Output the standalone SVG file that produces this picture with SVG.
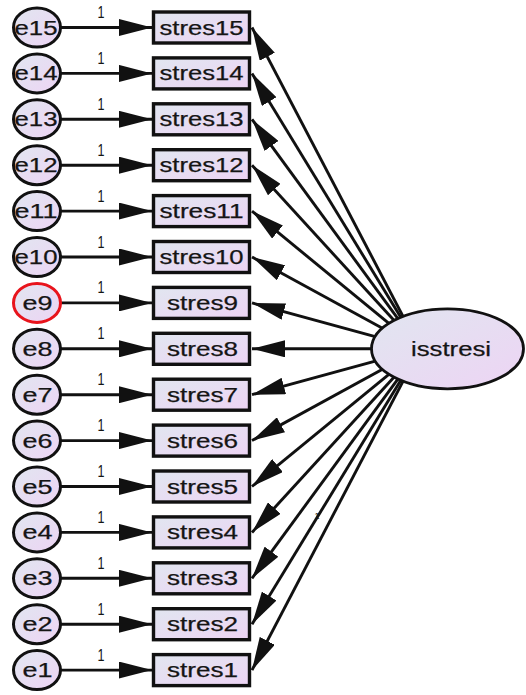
<svg xmlns="http://www.w3.org/2000/svg" width="526" height="695" viewBox="0 0 526 695">
  <style>
    .box { fill: url(#fillGrad); stroke: #111; stroke-width: 3.4; }
    .err { fill: url(#fillGrad); stroke: #111; stroke-width: 3; }
    .err.hl { stroke: #e8141c; }
    .lat { fill: url(#fillGrad); stroke: #111; stroke-width: 2.8; }
    .lbl { font-family: "Liberation Sans", Arial, sans-serif; font-size: 20px; fill: #151515; stroke: #151515; stroke-width: 0.25; text-anchor: middle; }
    .w { font-family: "Liberation Sans", Arial, sans-serif; font-size: 16px; fill: #151515; text-anchor: middle; }
    .path { stroke: #111; stroke-width: 2.9; fill: none; marker-end: url(#head); }
  </style>
  <defs>
    <linearGradient id="fillGrad" x1="0" y1="0" x2="1" y2="1">
      <stop offset="0" stop-color="#e1e6f0"/>
      <stop offset="1" stop-color="#edd4f4"/>
    </linearGradient>
    <marker id="head" markerUnits="userSpaceOnUse" markerWidth="33" markerHeight="17" refX="33" refY="8.5" orient="auto">
      <path d="M0,0 L33,8.5 L0,17 Z" fill="#111"/>
    </marker>
  </defs>
  <rect width="526" height="695" fill="#fff"/>

  <!-- connectors: error -> indicator, factor -> indicator -->
  <g id="connectors">
    <line class="path" x1="61" y1="27.5" x2="152" y2="27.5"/>
    <line class="path" x1="61" y1="73.4" x2="152" y2="73.4"/>
    <line class="path" x1="61" y1="119.3" x2="152" y2="119.3"/>
    <line class="path" x1="61" y1="165.2" x2="152" y2="165.2"/>
    <line class="path" x1="61" y1="211.1" x2="152" y2="211.1"/>
    <line class="path" x1="61" y1="257" x2="152" y2="257"/>
    <line class="path" x1="61" y1="302.9" x2="152" y2="302.9"/>
    <line class="path" x1="61" y1="348.8" x2="152" y2="348.8"/>
    <line class="path" x1="61" y1="394.7" x2="152" y2="394.7"/>
    <line class="path" x1="61" y1="440.6" x2="152" y2="440.6"/>
    <line class="path" x1="61" y1="486.5" x2="152" y2="486.5"/>
    <line class="path" x1="61" y1="532.4" x2="152" y2="532.4"/>
    <line class="path" x1="61" y1="578.3" x2="152" y2="578.3"/>
    <line class="path" x1="61" y1="624.2" x2="152" y2="624.2"/>
    <line class="path" x1="61" y1="670.1" x2="152" y2="670.1"/>

    <line class="path" x1="420" y1="348.8" x2="252" y2="27.5"/>
    <line class="path" x1="420" y1="348.8" x2="252" y2="73.4"/>
    <line class="path" x1="420" y1="348.8" x2="252" y2="119.3"/>
    <line class="path" x1="420" y1="348.8" x2="252" y2="165.2"/>
    <line class="path" x1="420" y1="348.8" x2="252" y2="211.1"/>
    <line class="path" x1="420" y1="348.8" x2="252" y2="257"/>
    <line class="path" x1="420" y1="348.8" x2="252" y2="302.9"/>
    <line class="path" x1="420" y1="348.8" x2="252" y2="348.8"/>
    <line class="path" x1="420" y1="348.8" x2="252" y2="394.7"/>
    <line class="path" x1="420" y1="348.8" x2="252" y2="440.6"/>
    <line class="path" x1="420" y1="348.8" x2="252" y2="486.5"/>
    <line class="path" x1="420" y1="348.8" x2="252" y2="532.4"/>
    <line class="path" x1="420" y1="348.8" x2="252" y2="578.3"/>
    <line class="path" x1="420" y1="348.8" x2="252" y2="624.2"/>
    <line class="path" x1="420" y1="348.8" x2="252" y2="670.1"/>

    <!-- regression weights fixed to 1 -->
    <text class="w" x="101" y="18" textLength="7" lengthAdjust="spacingAndGlyphs">1</text>
    <text class="w" x="101" y="63.9" textLength="7" lengthAdjust="spacingAndGlyphs">1</text>
    <text class="w" x="101" y="109.8" textLength="7" lengthAdjust="spacingAndGlyphs">1</text>
    <text class="w" x="101" y="155.7" textLength="7" lengthAdjust="spacingAndGlyphs">1</text>
    <text class="w" x="101" y="201.6" textLength="7" lengthAdjust="spacingAndGlyphs">1</text>
    <text class="w" x="101" y="247.5" textLength="7" lengthAdjust="spacingAndGlyphs">1</text>
    <text class="w" x="101" y="293.4" textLength="7" lengthAdjust="spacingAndGlyphs">1</text>
    <text class="w" x="101" y="339.3" textLength="7" lengthAdjust="spacingAndGlyphs">1</text>
    <text class="w" x="101" y="385.2" textLength="7" lengthAdjust="spacingAndGlyphs">1</text>
    <text class="w" x="101" y="431.1" textLength="7" lengthAdjust="spacingAndGlyphs">1</text>
    <text class="w" x="101" y="477" textLength="7" lengthAdjust="spacingAndGlyphs">1</text>
    <text class="w" x="101" y="522.9" textLength="7" lengthAdjust="spacingAndGlyphs">1</text>
    <text class="w" x="101" y="568.8" textLength="7" lengthAdjust="spacingAndGlyphs">1</text>
    <text class="w" x="101" y="614.7" textLength="7" lengthAdjust="spacingAndGlyphs">1</text>
    <text class="w" x="101" y="660.6" textLength="7" lengthAdjust="spacingAndGlyphs">1</text>
    <text class="w" x="317" y="519" style="font-size:9px">1</text>
  </g>

  <!-- latent factor -->
  <g id="isstresi">
    <ellipse class="lat" cx="447.5" cy="348.8" rx="76" ry="40"/>
    <text class="lbl" x="451" y="356" textLength="80" lengthAdjust="spacingAndGlyphs">isstresi</text>
  </g>

  <!-- indicators -->
  <g id="stres15"><rect class="box" x="153.5" y="12" width="96" height="31"/><text class="lbl" x="201.5" y="34.5" textLength="84" lengthAdjust="spacingAndGlyphs">stres15</text></g>
  <g id="stres14"><rect class="box" x="153.5" y="57.9" width="96" height="31"/><text class="lbl" x="201.5" y="80.4" textLength="84" lengthAdjust="spacingAndGlyphs">stres14</text></g>
  <g id="stres13"><rect class="box" x="153.5" y="103.8" width="96" height="31"/><text class="lbl" x="201.5" y="126.3" textLength="84" lengthAdjust="spacingAndGlyphs">stres13</text></g>
  <g id="stres12"><rect class="box" x="153.5" y="149.7" width="96" height="31"/><text class="lbl" x="201.5" y="172.2" textLength="84" lengthAdjust="spacingAndGlyphs">stres12</text></g>
  <g id="stres11"><rect class="box" x="153.5" y="195.6" width="96" height="31"/><text class="lbl" x="201.5" y="218.1" textLength="84" lengthAdjust="spacingAndGlyphs">stres11</text></g>
  <g id="stres10"><rect class="box" x="153.5" y="241.5" width="96" height="31"/><text class="lbl" x="201.5" y="264" textLength="84" lengthAdjust="spacingAndGlyphs">stres10</text></g>
  <g id="stres9"><rect class="box" x="153.5" y="287.4" width="96" height="31"/><text class="lbl" x="202.5" y="309.9" textLength="71" lengthAdjust="spacingAndGlyphs">stres9</text></g>
  <g id="stres8"><rect class="box" x="153.5" y="333.3" width="96" height="31"/><text class="lbl" x="202.5" y="355.8" textLength="71" lengthAdjust="spacingAndGlyphs">stres8</text></g>
  <g id="stres7"><rect class="box" x="153.5" y="379.2" width="96" height="31"/><text class="lbl" x="202.5" y="401.7" textLength="71" lengthAdjust="spacingAndGlyphs">stres7</text></g>
  <g id="stres6"><rect class="box" x="153.5" y="425.1" width="96" height="31"/><text class="lbl" x="202.5" y="447.6" textLength="71" lengthAdjust="spacingAndGlyphs">stres6</text></g>
  <g id="stres5"><rect class="box" x="153.5" y="471" width="96" height="31"/><text class="lbl" x="202.5" y="493.5" textLength="71" lengthAdjust="spacingAndGlyphs">stres5</text></g>
  <g id="stres4"><rect class="box" x="153.5" y="516.9" width="96" height="31"/><text class="lbl" x="202.5" y="539.4" textLength="71" lengthAdjust="spacingAndGlyphs">stres4</text></g>
  <g id="stres3"><rect class="box" x="153.5" y="562.8" width="96" height="31"/><text class="lbl" x="202.5" y="585.3" textLength="71" lengthAdjust="spacingAndGlyphs">stres3</text></g>
  <g id="stres2"><rect class="box" x="153.5" y="608.7" width="96" height="31"/><text class="lbl" x="202.5" y="631.2" textLength="71" lengthAdjust="spacingAndGlyphs">stres2</text></g>
  <g id="stres1"><rect class="box" x="153.5" y="654.6" width="96" height="31"/><text class="lbl" x="202.5" y="677.1" textLength="71" lengthAdjust="spacingAndGlyphs">stres1</text></g>

  <!-- error terms -->
  <g id="e15"><ellipse class="err" cx="37" cy="27.5" rx="23.5" ry="19.5"/><text class="lbl" x="36" y="34.5" textLength="43" lengthAdjust="spacingAndGlyphs">e15</text></g>
  <g id="e14"><ellipse class="err" cx="37" cy="73.4" rx="23.5" ry="19.5"/><text class="lbl" x="36" y="80.4" textLength="43" lengthAdjust="spacingAndGlyphs">e14</text></g>
  <g id="e13"><ellipse class="err" cx="37" cy="119.3" rx="23.5" ry="19.5"/><text class="lbl" x="36" y="126.3" textLength="43" lengthAdjust="spacingAndGlyphs">e13</text></g>
  <g id="e12"><ellipse class="err" cx="37" cy="165.2" rx="23.5" ry="19.5"/><text class="lbl" x="36" y="172.2" textLength="43" lengthAdjust="spacingAndGlyphs">e12</text></g>
  <g id="e11"><ellipse class="err" cx="37" cy="211.1" rx="23.5" ry="19.5"/><text class="lbl" x="36" y="218.1" textLength="43" lengthAdjust="spacingAndGlyphs">e11</text></g>
  <g id="e10"><ellipse class="err" cx="37" cy="257" rx="23.5" ry="19.5"/><text class="lbl" x="36" y="264" textLength="43" lengthAdjust="spacingAndGlyphs">e10</text></g>
  <g id="e9"><ellipse class="err hl" cx="37" cy="302.9" rx="23.5" ry="19.5"/><text class="lbl" x="37.5" y="309.9" textLength="30" lengthAdjust="spacingAndGlyphs">e9</text></g>
  <g id="e8"><ellipse class="err" cx="37" cy="348.8" rx="23.5" ry="19.5"/><text class="lbl" x="37.5" y="355.8" textLength="30" lengthAdjust="spacingAndGlyphs">e8</text></g>
  <g id="e7"><ellipse class="err" cx="37" cy="394.7" rx="23.5" ry="19.5"/><text class="lbl" x="37.5" y="401.7" textLength="30" lengthAdjust="spacingAndGlyphs">e7</text></g>
  <g id="e6"><ellipse class="err" cx="37" cy="440.6" rx="23.5" ry="19.5"/><text class="lbl" x="37.5" y="447.6" textLength="30" lengthAdjust="spacingAndGlyphs">e6</text></g>
  <g id="e5"><ellipse class="err" cx="37" cy="486.5" rx="23.5" ry="19.5"/><text class="lbl" x="37.5" y="493.5" textLength="30" lengthAdjust="spacingAndGlyphs">e5</text></g>
  <g id="e4"><ellipse class="err" cx="37" cy="532.4" rx="23.5" ry="19.5"/><text class="lbl" x="37.5" y="539.4" textLength="30" lengthAdjust="spacingAndGlyphs">e4</text></g>
  <g id="e3"><ellipse class="err" cx="37" cy="578.3" rx="23.5" ry="19.5"/><text class="lbl" x="37.5" y="585.3" textLength="30" lengthAdjust="spacingAndGlyphs">e3</text></g>
  <g id="e2"><ellipse class="err" cx="37" cy="624.2" rx="23.5" ry="19.5"/><text class="lbl" x="37.5" y="631.2" textLength="30" lengthAdjust="spacingAndGlyphs">e2</text></g>
  <g id="e1"><ellipse class="err" cx="37" cy="670.1" rx="23.5" ry="19.5"/><text class="lbl" x="37.5" y="677.1" textLength="30" lengthAdjust="spacingAndGlyphs">e1</text></g>
</svg>
